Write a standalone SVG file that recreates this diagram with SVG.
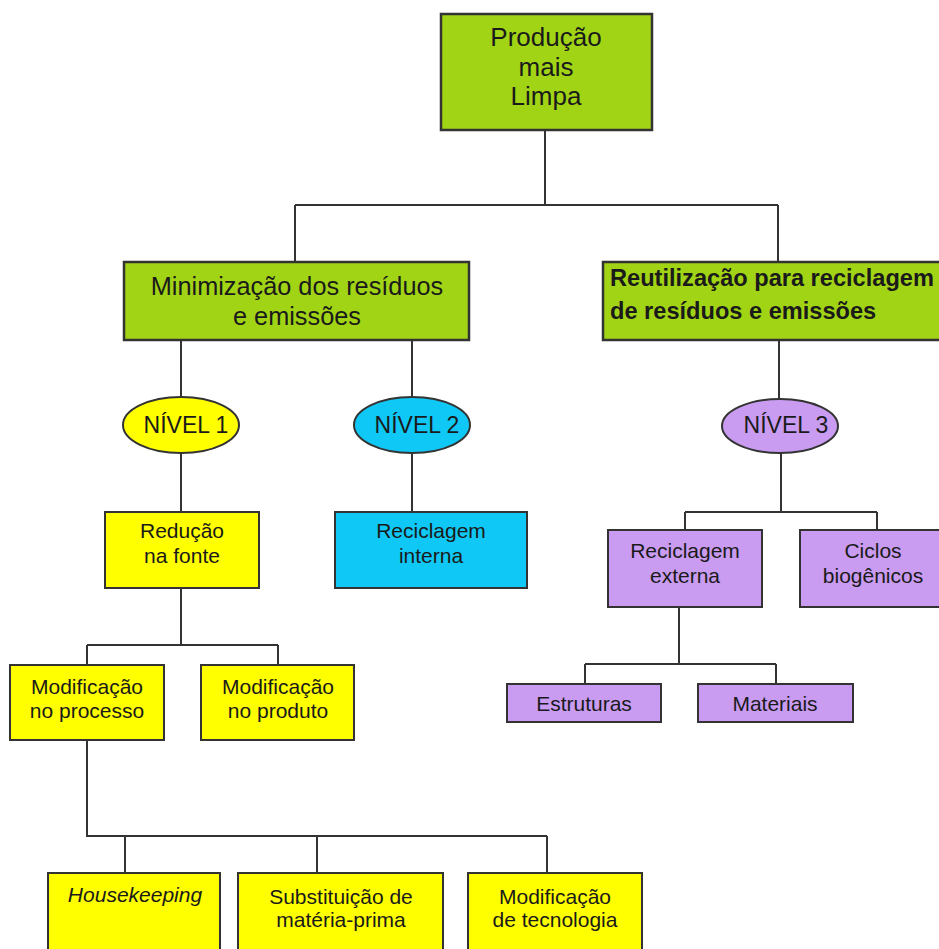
<svg xmlns="http://www.w3.org/2000/svg" width="939" height="949" viewBox="0 0 939 949">
<style>
text{font-family:"Liberation Sans",Arial,sans-serif;fill:#1a1a1a;text-anchor:middle}
.g{fill:#a2d416;stroke:#333;stroke-width:2.5}
.y{fill:#ffff00;stroke:#333;stroke-width:2}
.c{fill:#0fc8f5;stroke:#333;stroke-width:2}
.p{fill:#c99cf2;stroke:#333;stroke-width:2}
.t26{font-size:26px}
.t25{font-size:25.3px}
.t21{font-size:21px}
.t23{font-size:23px}
.b{font-size:23.6px;font-weight:bold;text-anchor:start}
#connectors path{fill:none;stroke:#333;stroke-width:2}
</style>
<rect width="939" height="949" fill="#fff"/>
<g id="connectors">
<path d="M545 130V205M295 205H778M295 205V262M778 205V262"/>
<path d="M181 340V397M412 340V397M779 340V400"/>
<path d="M181 453V512M412 453V512"/>
<path d="M181 588V645M87 645H278M87 645V665M278 645V665"/>
<path d="M87 740V836H547M125 836V873M317 836V873M547 836V873"/>
<path d="M781 453V512M685 512H877M685 512V530M877 512V530"/>
<path d="M679 607V664M585 664H776M585 664V684M776 664V684"/>
</g>
<g id="n-pml"><rect class="g" x="441" y="14" width="211" height="116"/>
<text class="t26" x="546" y="46">Produção</text><text class="t26" x="546" y="76">mais</text><text class="t26" x="546" y="105">Limpa</text></g>
<g id="n-min"><rect class="g" x="124" y="262" width="345" height="78"/>
<text class="t25" x="297" y="295">Minimização dos resíduos</text><text class="t25" x="297" y="325">e emissões</text></g>
<g id="n-reu"><rect class="g" x="603" y="262" width="340" height="78"/>
<text class="b" x="610" y="286">Reutilização para reciclagem</text><text class="b" x="610" y="319">de resíduos e emissões</text></g>
<g id="n-n1"><ellipse class="y" cx="181" cy="425" rx="58" ry="28"/><text class="t23" x="186" y="433">NÍVEL 1</text></g>
<g id="n-n2"><ellipse class="c" cx="412" cy="425" rx="58" ry="28"/><text class="t23" x="417" y="433">NÍVEL 2</text></g>
<g id="n-n3"><ellipse class="p" cx="780" cy="426" rx="58" ry="27"/><text class="t23" x="786" y="433">NÍVEL 3</text></g>
<g id="n-red"><rect class="y" x="105" y="512" width="154" height="76"/>
<text class="t21" x="182" y="538">Redução</text><text class="t21" x="182" y="563">na fonte</text></g>
<g id="n-rint"><rect class="c" x="335" y="512" width="192" height="76"/>
<text class="t21" x="431" y="538">Reciclagem</text><text class="t21" x="431" y="563">interna</text></g>
<g id="n-mproc"><rect class="y" x="10" y="665" width="154" height="75"/>
<text class="t21" x="87" y="694">Modificação</text><text class="t21" x="87" y="718">no processo</text></g>
<g id="n-mprod"><rect class="y" x="201" y="665" width="153" height="75"/>
<text class="t21" x="278" y="694">Modificação</text><text class="t21" x="278" y="718">no produto</text></g>
<g id="n-house"><rect class="y" x="48" y="873" width="172" height="82"/>
<text class="t21" x="135" y="902" font-style="italic">Housekeeping</text></g>
<g id="n-subst"><rect class="y" x="238" y="873" width="205" height="82"/>
<text class="t21" x="341" y="904">Substituição de</text><text class="t21" x="341" y="927">matéria-prima</text></g>
<g id="n-tec"><rect class="y" x="468" y="873" width="174" height="82"/>
<text class="t21" x="555" y="904">Modificação</text><text class="t21" x="555" y="927">de tecnologia</text></g>
<g id="n-rext"><rect class="p" x="608" y="530" width="154" height="77"/>
<text class="t21" x="685" y="558">Reciclagem</text><text class="t21" x="685" y="583">externa</text></g>
<g id="n-cic"><rect class="p" x="800" y="530" width="145" height="77"/>
<text class="t21" x="873" y="558">Ciclos</text><text class="t21" x="873" y="583">biogênicos</text></g>
<g id="n-est"><rect class="p" x="507" y="684" width="154" height="38"/>
<text class="t21" x="584" y="711">Estruturas</text></g>
<g id="n-mat"><rect class="p" x="698" y="684" width="155" height="38"/>
<text class="t21" x="775" y="711">Materiais</text></g>
</svg>
